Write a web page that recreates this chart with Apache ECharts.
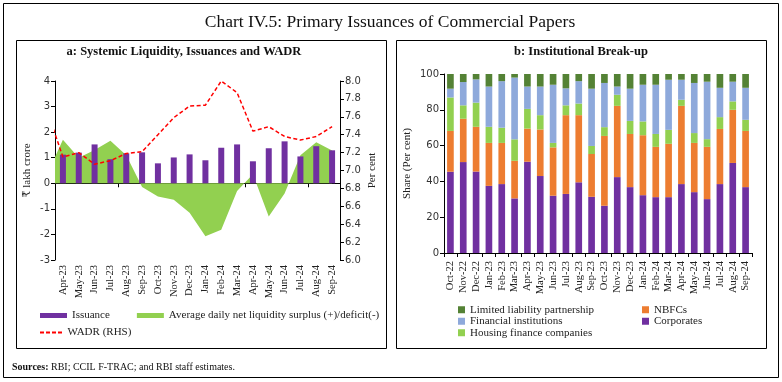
<!DOCTYPE html>
<html>
<head>
<meta charset="utf-8">
<script src="https://cdn.jsdelivr.net/npm/echarts@6/dist/echarts.min.js"></script>
<style>
html,body{margin:0;padding:0;background:#fff;}
#c{width:782px;height:382px;}
</style>
</head>
<body>
<div id="c"></div>
<script>
// ---- Panel a data ----
const monthsA = ['Apr-23','May-23','Jun-23','Jul-23','Aug-23','Sep-23','Oct-23','Nov-23','Dec-23','Jan-24','Feb-24','Mar-24','Apr-24','May-24','Jun-24','Jul-24','Aug-24','Sep-24'];
const issuance = [1.12,1.2,1.52,0.94,1.17,1.21,0.78,1.01,1.13,0.9,1.39,1.52,0.86,1.37,1.64,1.05,1.45,1.29];
// liquidity and WADR start one month earlier (Mar-23), which is clipped at the axis edge
const lineMonths = ['Mar-23'].concat(monthsA);
const liquidity = [0.36,1.7,1.0,1.3,1.66,1.1,-0.15,-0.52,-0.64,-1.15,-2.07,-1.82,-0.3,0.35,-1.3,-0.4,1.1,1.6,1.28];
const wadr = [7.67,7.15,7.2,7.07,7.11,7.19,7.21,7.40,7.59,7.72,7.73,8.0,7.87,7.44,7.49,7.38,7.34,7.38,7.49];
const leftTicks = [-3,-2,-1,0,1,2,3,4];
const rightTicks = [6.0,6.2,6.4,6.6,6.8,7.0,7.2,7.4,7.6,7.8,8.0];

// ---- Panel b data ----
const monthsB = ['Oct-22','Nov-22','Dec-22','Jan-23','Feb-23','Mar-23','Apr-23','May-23','Jun-23','Jul-23','Aug-23','Sep-23','Oct-23','Nov-23','Dec-23','Jan-24','Feb-24','Mar-24','Apr-24','May-24','Jun-24','Jul-24','Aug-24','Sep-24'];
const corporates = [45.4,50.8,45.5,37.5,38.5,30.5,51.0,43.0,32.0,33.0,39.5,31.4,26.4,42.4,36.8,32.3,31.2,31.2,38.5,34.0,30.1,38.5,50.3,36.8];
const nbfcs = [22.8,24.2,25.0,24.0,23.0,21.0,18.5,26.0,27.0,44.0,37.5,23.9,39.0,39.8,29.7,33.5,28.1,29.8,43.7,27.5,29.2,30.8,29.7,31.4];
const hfcs = [18.7,7.5,13.5,9.0,8.5,12.0,11.0,8.0,2.5,5.5,6.5,4.5,4.9,6.2,7.3,7.7,7.2,7.8,3.4,5.5,4.3,6.6,4.7,6.2];
const finInst = [4.9,13.0,13.0,22.5,26.0,34.5,12.5,16.0,32.5,9.5,12.5,32.0,24.7,4.6,18.0,20.5,27.5,28.0,11.2,28.0,32.1,16.4,11.0,17.9];
const llp = [8.2,4.5,3.0,7.0,4.0,2.0,7.0,7.0,6.0,8.0,4.0,8.2,5.0,7.0,8.2,6.0,6.0,3.2,3.2,5.0,4.3,7.7,4.3,7.7];
const shareTicks = [0,20,40,60,80,100];

const SERIF = '"Liberation Serif", "DejaVu Serif", serif';
const SANS = '"DejaVu Sans", Verdana, sans-serif';
const BLACK = '#000';
const DASH_ICON = 'path://M0,0h4v2h-4z M6,0h4v2h-4z M12,0h4v2h-4z M18,0h4v2h-4z';

const chart = echarts.init(document.getElementById('c'), null, {renderer: 'canvas'});

const idxPairs = (arr) => arr.map((v, i) => [i - 1, v]);

const option = {
  animation: false,
  backgroundColor: '#fff',
  graphic: [
    {type: 'rect', shape: {x: 3.5, y: 3.5, width: 775, height: 374}, style: {fill: null, stroke: '#000', lineWidth: 1}, silent: true},
    {type: 'rect', shape: {x: 16.5, y: 40.5, width: 370, height: 308}, style: {fill: null, stroke: '#000', lineWidth: 1}, silent: true},
    {type: 'rect', shape: {x: 396.5, y: 40.5, width: 370, height: 308}, style: {fill: null, stroke: '#000', lineWidth: 1}, silent: true},
    {type: 'text', x: 390, y: 22, style: {text: 'Chart IV.5: Primary Issuances of Commercial Papers', font: '17.5px ' + SERIF, fill: '#111', align: 'center', verticalAlign: 'middle'}},
    {type: 'text', x: 184, y: 52, style: {text: 'a: Systemic Liquidity, Issuances and WADR', font: 'bold 12.5px ' + SERIF, fill: '#111', align: 'center', verticalAlign: 'middle'}},
    {type: 'text', x: 581, y: 52, style: {text: 'b: Institutional Break-up', font: 'bold 12.5px ' + SERIF, fill: '#111', align: 'center', verticalAlign: 'middle'}},
    {type: 'text', x: 12, y: 367, style: {
      text: '{b|Sources:} RBI; CCIL F-TRAC; and RBI staff estimates.',
      font: '10px ' + SERIF, fill: '#111', verticalAlign: 'middle',
      rich: {b: {fontWeight: 'bold', fontFamily: SERIF, fontSize: 10, fill: '#111'}}
    }}
  ],
  grid: [
    {left: 55, top: 81, width: 285, height: 179, containLabel: false},
    {left: 444, top: 74, width: 308, height: 179, containLabel: false}
  ],
  legend: [
    {data: ['Issuance', {name: 'Average daily net liquidity surplus (+)/deficit(-)', icon: 'rect'}],
     left: 40, top: 310, padding: 0, icon: 'rect', itemWidth: 27, itemHeight: 5, itemGap: 27,
     textStyle: {fontFamily: SERIF, fontSize: 11, color: '#222'}, selectedMode: false},
    {data: [{name: 'WADR (RHS)', icon: DASH_ICON}], left: 40, top: 327, padding: 0, itemWidth: 23, itemHeight: 2,
     textStyle: {fontFamily: SERIF, fontSize: 11, color: '#222'}, selectedMode: false},
    {data: ['Limited liability partnership', 'Financial institutions', 'Housing finance companies'],
     orient: 'vertical', left: 458, top: 304, padding: 0, icon: 'rect', itemWidth: 7, itemHeight: 7, itemGap: 0,
     textStyle: {fontFamily: SERIF, fontSize: 11, color: '#222', lineHeight: 11.5}, selectedMode: false},
    {data: ['NBFCs', 'Corporates'],
     orient: 'vertical', left: 642, top: 304, padding: 0, icon: 'rect', itemWidth: 7, itemHeight: 7, itemGap: 0,
     textStyle: {fontFamily: SERIF, fontSize: 11, color: '#222', lineHeight: 11.5}, selectedMode: false}
  ],
  xAxis: [
    {gridIndex: 0, type: 'category', data: monthsA,
     axisLine: {onZero: true, lineStyle: {color: BLACK, width: 1}},
     axisTick: {show: true, length: 4, lineStyle: {color: BLACK}},
     axisLabel: {show: false}, splitLine: {show: false}},
    {gridIndex: 0, type: 'category', data: monthsA, position: 'bottom',
     axisLine: {show: false, onZero: false}, axisTick: {show: false},
     axisLabel: {interval: 0, rotate: 90, margin: 5, fontFamily: SERIF, fontSize: 10.5, color: '#222'}},
    {gridIndex: 0, type: 'value', min: -0.5, max: 17.5, show: false},
    {gridIndex: 1, type: 'category', data: monthsB,
     axisLine: {lineStyle: {color: BLACK, width: 1}},
     axisTick: {show: true, length: 4, interval: 0, lineStyle: {color: BLACK}},
     axisLabel: {interval: 0, rotate: 90, margin: 8, fontFamily: SERIF, fontSize: 10.5, color: '#222'}}
  ],
  yAxis: [
    {gridIndex: 0, type: 'value', position: 'left', min: leftTicks[0], max: leftTicks[leftTicks.length - 1], interval: 1,
     axisLine: {show: true, onZero: false, lineStyle: {color: BLACK}},
     axisTick: {show: true, length: 4, lineStyle: {color: BLACK}},
     splitLine: {show: false},
     axisLabel: {fontFamily: SANS, fontSize: 10, color: '#333', margin: 5},
     name: '₹ lakh crore', nameLocation: 'middle', nameGap: 22, nameRotate: 90,
     nameTextStyle: {fontFamily: SERIF, fontSize: 11, color: '#222'}},
    {gridIndex: 0, type: 'value', position: 'right', min: rightTicks[0], max: rightTicks[rightTicks.length - 1], interval: 0.2,
     axisLine: {show: true, onZero: false, lineStyle: {color: BLACK}},
     axisTick: {show: true, length: 4, lineStyle: {color: BLACK}},
     splitLine: {show: false},
     axisLabel: {fontFamily: SANS, fontSize: 10, color: '#333', margin: 5, formatter: (v) => v.toFixed(1)},
     name: 'Per cent', nameLocation: 'middle', nameGap: 27, nameRotate: 90,
     nameTextStyle: {fontFamily: SERIF, fontSize: 11, color: '#222'}},
    {gridIndex: 1, type: 'value', min: shareTicks[0], max: shareTicks[shareTicks.length - 1], interval: 20,
     axisLine: {show: true, onZero: false, lineStyle: {color: BLACK}},
     axisTick: {show: true, length: 4, lineStyle: {color: BLACK}},
     splitLine: {show: false},
     axisLabel: {fontFamily: SANS, fontSize: 10, color: '#333', margin: 5},
     name: 'Share (Per cent)', nameLocation: 'middle', nameGap: 31, nameRotate: 90,
     nameTextStyle: {fontFamily: SERIF, fontSize: 11, color: '#222'}}
  ],
  series: [
    {name: 'Average daily net liquidity surplus (+)/deficit(-)', type: 'line', xAxisIndex: 2, yAxisIndex: 0,
     data: idxPairs(liquidity), symbol: 'none', clip: true, z: 1,
     itemStyle: {color: '#92D050'}, lineStyle: {width: 0, color: '#92D050'},
     areaStyle: {color: '#92D050', opacity: 1}},
    {name: 'Issuance', type: 'bar', xAxisIndex: 0, yAxisIndex: 0, data: issuance, barWidth: 6, z: 3,
     itemStyle: {color: '#7030A0'}},
    {name: 'WADR (RHS)', type: 'line', xAxisIndex: 2, yAxisIndex: 1, data: idxPairs(wadr),
     symbol: 'none', clip: true, z: 5,
     itemStyle: {color: '#FF0000'}, lineStyle: {color: '#FF0000', width: 1.5, type: [4, 2.5]}},
    {name: 'Corporates', type: 'bar', xAxisIndex: 3, yAxisIndex: 2, stack: 'b', data: corporates, barWidth: '52%', itemStyle: {color: '#7030A0'}},
    {name: 'NBFCs', type: 'bar', xAxisIndex: 3, yAxisIndex: 2, stack: 'b', data: nbfcs, barWidth: '52%', itemStyle: {color: '#ED7D31'}},
    {name: 'Housing finance companies', type: 'bar', xAxisIndex: 3, yAxisIndex: 2, stack: 'b', data: hfcs, barWidth: '52%', itemStyle: {color: '#92D050'}},
    {name: 'Financial institutions', type: 'bar', xAxisIndex: 3, yAxisIndex: 2, stack: 'b', data: finInst, barWidth: '52%', itemStyle: {color: '#8EA9DB'}},
    {name: 'Limited liability partnership', type: 'bar', xAxisIndex: 3, yAxisIndex: 2, stack: 'b', data: llp, barWidth: '52%', itemStyle: {color: '#548235'}}
  ]
};
chart.setOption(option);
</script>
</body>
</html>
